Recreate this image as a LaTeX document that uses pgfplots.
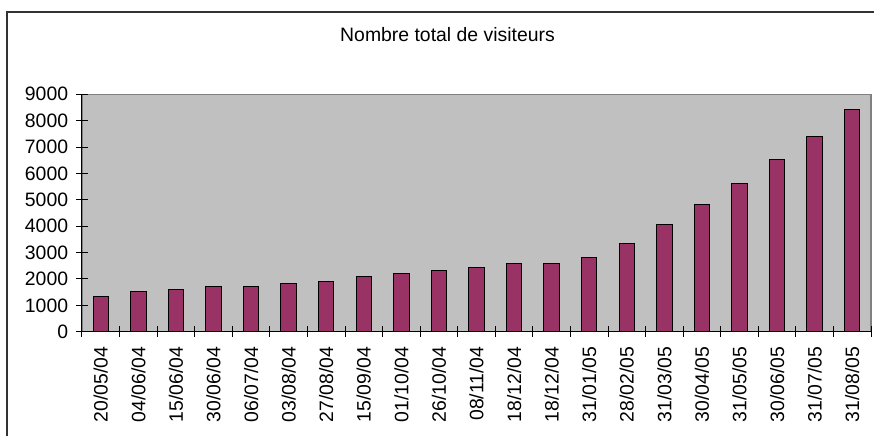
\documentclass[border=0pt]{standalone}
\usepackage{pgfplots}
\pgfplotsset{compat=1.18}
\usepackage{fontspec}
\setmainfont{Liberation Sans}
\definecolor{barc}{HTML}{993366}
\definecolor{bgc}{HTML}{C0C0C0}
\definecolor{bdc}{HTML}{808080}
\begin{document}
\fontsize{9.7}{11}\selectfont
\begin{tikzpicture}
\useasboundingbox (0,0) rectangle (437pt,-217.5pt);
\begin{scope}
\clip (0,0) rectangle (437pt,-217.5pt);
\draw[line width=0.65pt, black!80] (3.5pt,-6pt) rectangle (445pt,-225pt);
\end{scope}
\node[anchor=base] at (223.75pt,-20.8pt) {Nombre total de visiteurs};
\begin{axis}[
  at={(41pt,-165.85pt)}, anchor=south west,
  scale only axis, width=394.5pt, height=118.7pt,
  xmin=-0.5, xmax=20.5, ymin=0, ymax=9000,
  axis lines*=left,
  axis line style={black, line width=0.5pt},
  axis background/.style={fill=bgc, draw=bdc, line width=0.6pt},
  ytick={0,1000,...,9000},
  xtick={0,...,20},
  minor xtick={-0.5,0.5,...,20.5},
  xticklabels={20/05/04,04/06/04,15/06/04,30/06/04,06/07/04,03/08/04,27/08/04,15/09/04,01/10/04,26/10/04,08/11/04,18/12/04,18/12/04,31/01/05,28/02/05,31/03/05,30/04/05,31/05/05,30/06/05,31/07/05,31/08/05},
  major x tick style={draw=none},
  tick align=center,
  major tick length=5.5pt, minor tick length=5.5pt,
  tick style={black, line width=0.5pt},
  xticklabel style={rotate=90, anchor=east, inner sep=0pt, xshift=-4.5pt},
  yticklabel style={anchor=east, inner sep=0pt, xshift=-4pt},
  /pgf/number format/assume math mode=true,
  /pgf/number format/1000 sep={},
  ticklabel style={font=\fontsize{9.7}{11}\selectfont},
  clip=false,
]
\addplot[ybar, bar width=0.41, fill=barc, draw=black, line width=0.5pt] coordinates {
(0,1350) (1,1540) (2,1590) (3,1705) (4,1705) (5,1815) (6,1920) (7,2080)
(8,2210) (9,2310) (10,2425) (11,2600) (12,2600) (13,2830) (14,3350)
(15,4080) (16,4825) (17,5620) (18,6530) (19,7385) (20,8410)};
\end{axis}
\end{tikzpicture}
\end{document}
